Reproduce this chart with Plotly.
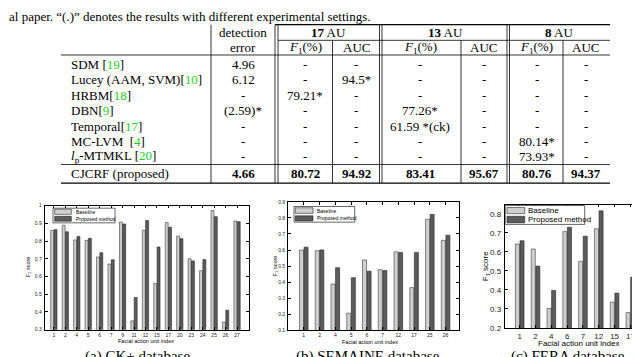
import plotly.graph_objects as go

W, H = 640, 357

# ---- bar chart data (F1 score per facial action unit) ----
ck_units = ['1', '2', '4', '5', '6', '7', '9', '11', '12', '15', '17', '20', '23', '24', '25', '26', '27']
ck_baseline = [0.860, 0.889, 0.806, 0.804, 0.710, 0.670, 0.907, 0.350, 0.860, 0.560, 0.905, 0.828, 0.700,
               0.633, 0.972, 0.343, 0.913]
ck_proposed = [0.864, 0.852, 0.826, 0.815, 0.734, 0.694, 0.896, 0.482, 0.915, 0.766, 0.878, 0.813, 0.688,
               0.695, 0.937, 0.410, 0.909]

sem_units = ['1', '2', '4', '5', '6', '7', '12', '17', '25', '26']
sem_baseline = [0.600, 0.596, 0.388, 0.207, 0.538, 0.478, 0.589, 0.366, 0.792, 0.660]
sem_proposed = [0.618, 0.601, 0.490, 0.428, 0.468, 0.472, 0.584, 0.584, 0.822, 0.692]

fera_units = ['1', '2', '4', '6', '7', '12', '15', '17']
fera_baseline = [0.641, 0.615, 0.303, 0.706, 0.550, 0.721, 0.336, 0.281]
fera_proposed = [0.658, 0.525, 0.397, 0.729, 0.682, 0.815, 0.383, 0.466]

# ---- table data ----
methods = ['SDM ', 'Lucey (AAM, SVM)', 'HRBM', 'DBN', 'Temporal', 'MC-LVM  ', '<i>l</i><sub>p</sub>-MTMKL ',
           'CJCRF (proposed)']
method_refs = ['19', '10', '18', '9', '17', '4', '20', None]
det_error = ['4.96', '6.12', '-', '(2.59)*', '-', '-', '-', '4.66']
f1_17 = ['-', '-', '79.21*', '-', '-', '-', '-', '80.72']
auc_17 = ['-', '94.5*', '-', '-', '-', '-', '-', '94.92']
f1_13 = ['-', '-', '-', '77.26*', '61.59 *(ck)', '-', '-', '83.41']
auc_13 = ['-', '-', '-', '-', '-', '-', '-', '95.67']
f1_8 = ['-', '-', '-', '-', '-', '80.14*', '73.93*', '80.76']
auc_8 = ['-', '-', '-', '-', '-', '-', '-', '94.37']

caption_text = 'al paper. \u201c(.)\u201d denotes the results with different experimental settings.'
sub_captions = ['(a) CK+ database', '(b) SEMAINE database', '(c) FERA database']

LIGHT = '#cfcfcf'
DARK = '#5c5c5c'
SERIF = 'Liberation Serif, Times New Roman, serif'
SANS = 'Liberation Sans, Arial, sans-serif'
GREEN = '#19d119'


def px(x):
    return x / W


def py(y):
    return 1 - y / H


fig = go.Figure()

panels = [
    dict(units=ck_units, base=ck_baseline, prop=ck_proposed, xa='x', ya='y',
         dom_x=(36.7, 240.5), dom_y=(199, 326), xr=[-0.8, 17.0], yr=[0.3, 1.0],
         yt=[0.3, 0.4, 0.5, 0.6, 0.7, 0.8, 0.9, 1.0], fs=5),
    dict(units=sem_units, base=sem_baseline, prop=sem_proposed, xa='x2', ya='y2',
         dom_x=(280, 451), dom_y=(195.2, 326.7), xr=[-1.0, 9.85], yr=[0.1, 0.9],
         yt=[0.1, 0.2, 0.3, 0.4, 0.5, 0.6, 0.7, 0.8, 0.9], fs=5),
    dict(units=fera_units, base=fera_baseline, prop=fera_proposed, xa='x3', ya='y3',
         dom_x=(496.7, 639), dom_y=(198, 324.3), xr=[-0.95, 8.05], yr=[0.2, 0.848],
         yt=[0.2, 0.3, 0.4, 0.5, 0.6, 0.7, 0.8], fs=8),
]

for i, p in enumerate(panels):
    fig.add_trace(go.Bar(x=p['units'], y=p['base'], name='Baseline', xaxis=p['xa'], yaxis=p['ya'],
                         marker=dict(color=LIGHT, line=dict(color='#3a3a3a', width=0.6)), showlegend=False))
    fig.add_trace(go.Bar(x=p['units'], y=p['prop'], name='Proposed method', xaxis=p['xa'], yaxis=p['ya'],
                         marker=dict(color=DARK, line=dict(color='#222222', width=0.6)), showlegend=False))
    sfx = '' if i == 0 else str(i + 1)
    common = dict(showline=True, linecolor='black', linewidth=0.8, mirror='allticks', ticks='inside',
                  ticklen=3, tickcolor='black', tickwidth=0.6, showgrid=False, zeroline=False,
                  tickfont=dict(family=SANS, size=p['fs'], color='#222222'))
    fig.layout['xaxis' + sfx] = dict(common, type='category', range=p['xr'],
                                     domain=[px(p['dom_x'][0]), px(p['dom_x'][1])],
                                     anchor='y' + sfx, ticklabelstandoff=0)
    fig.layout['yaxis' + sfx] = dict(common, range=p['yr'], tickvals=p['yt'],
                                     ticktext=['%g' % v for v in p['yt']],
                                     domain=[py(p['dom_y'][1]), py(p['dom_y'][0])],
                                     anchor='x' + sfx, ticklabelstandoff=1)

annotations = []
shapes = []


def text(x, y, s, size=13, family=SERIF, anchor='center', color='black', angle=0, yanchor='middle'):
    annotations.append(dict(x=px(x), y=py(y), xref='paper', yref='paper', text=s, showarrow=False,
                            xanchor=anchor, yanchor=yanchor, textangle=angle,
                            font=dict(family=family, size=size, color=color)))


def line(x0, y0, x1, y1, w=0.8):
    shapes.append(dict(type='line', xref='paper', yref='paper', x0=px(x0), y0=py(y0), x1=px(x1), y1=py(y1),
                       line=dict(color='black', width=w)))


def rect(x0, y0, x1, y1, fill, w=0.6):
    shapes.append(dict(type='rect', xref='paper', yref='paper', x0=px(x0), y0=py(y0), x1=px(x1), y1=py(y1),
                       fillcolor=fill, line=dict(color='black', width=w)))


# axis titles
text(20, 262, 'F<sub>1</sub> score', size=5.5, family=SANS, angle=-90)
text(138, 338, 'Facial action unit index', size=5.5, family=SANS)
text(267, 261, 'F<sub>1</sub> score', size=5.5, family=SANS, angle=-90)
text(362, 338.5, 'Facial action unit index', size=5.5, family=SANS)
text(478, 261, 'F<sub>1</sub> score', size=8, family=SANS, angle=-90)
text(570, 340.5, 'Facial action unit index', size=8, family=SANS)

# manual legends
legends = [((45, 201.7, 107, 216.7), (46.7, 63.3), 65.7, (202.7, 208), (210, 215), 5),
           ((286, 200, 346.7, 216), (287.3, 305), 306.7, (201.3, 207), (209.5, 214.7), 5),
           ((497.3, 199, 576.7, 218.3), (499, 516.7), 518.3, (201, 207.3), (210, 216.7), 8)]
for box, sx, tx, r1, r2, fsz in legends:
    rect(box[0], box[1], box[2], box[3], 'white', 0.6)
    rect(sx[0], r1[0], sx[1], r1[1], LIGHT, 0.5)
    rect(sx[0], r2[0], sx[1], r2[1], DARK, 0.5)
    text(tx, (r1[0] + r1[1]) / 2, 'Baseline', size=fsz, family=SANS, anchor='left')
    text(tx, (r2[0] + r2[1]) / 2, 'Proposed method', size=fsz, family=SANS, anchor='left')

# sub-figure captions (cut at bottom edge, as in the source page)
for cx, s in zip([129, 360, 560], sub_captions):
    text(cx, 343, s, size=15, yanchor='top')

# ---- table ----
text(-1, 6, caption_text, size=13, anchor='left')

col_x = [235, 297, 348, 412, 475.5, 528.5, 577.5]
row_y = [54.5, 70.5, 86.3, 102, 117.8, 133.5, 149.2, 166.5]

text(235, 22, 'detection', size=13)
text(235, 37.5, 'error', size=13)
text(320.5, 22, '<b>17</b> AU', size=13)
text(437, 22, '<b>13</b> AU', size=13)
text(551, 22, '<b>8</b> AU', size=13)
for j, cx in enumerate(col_x[1:]):
    text(cx, 37.5, '<i>F</i><sub>1</sub>(%)' if j % 2 == 0 else 'AUC', size=13)

columns = [det_error, f1_17, auc_17, f1_13, auc_13, f1_8, auc_8]
for r, (m, ref) in enumerate(zip(methods, method_refs)):
    label = m if ref is None else m + '[<span style="color:%s">%s</span>]' % (GREEN, ref)
    text(61, row_y[r], label, size=13, anchor='left')
    for c, col in enumerate(columns):
        v = col[r]
        if r == len(methods) - 1:
            v = '<b>%s</b>' % v
        text(col_x[c], row_y[r], v, size=13)

# rules
line(267, 14, 602, 14, 1.3)
line(270, 30, 602, 30, 0.8)
line(53, 45, 602, 45, 0.8)
line(53, 157, 602, 157, 0.8)
line(53, 176, 602, 176, 1.3)
# vertical separators
line(203, 14, 203, 176)
for xv in [267, 270, 371.5, 374, 499, 501.5]:
    line(xv, 14, xv, 176)
for xv in [324.5, 453, 555]:
    line(xv, 30, xv, 176)

fig.update_layout(
    width=W, height=H,
    margin=dict(l=0, r=0, t=0, b=0),
    paper_bgcolor='white', plot_bgcolor='white',
    barmode='group', bargap=0.42, bargroupgap=0.12,
    showlegend=False,
    annotations=annotations, shapes=shapes,
)

fig.write_html("out.html")
